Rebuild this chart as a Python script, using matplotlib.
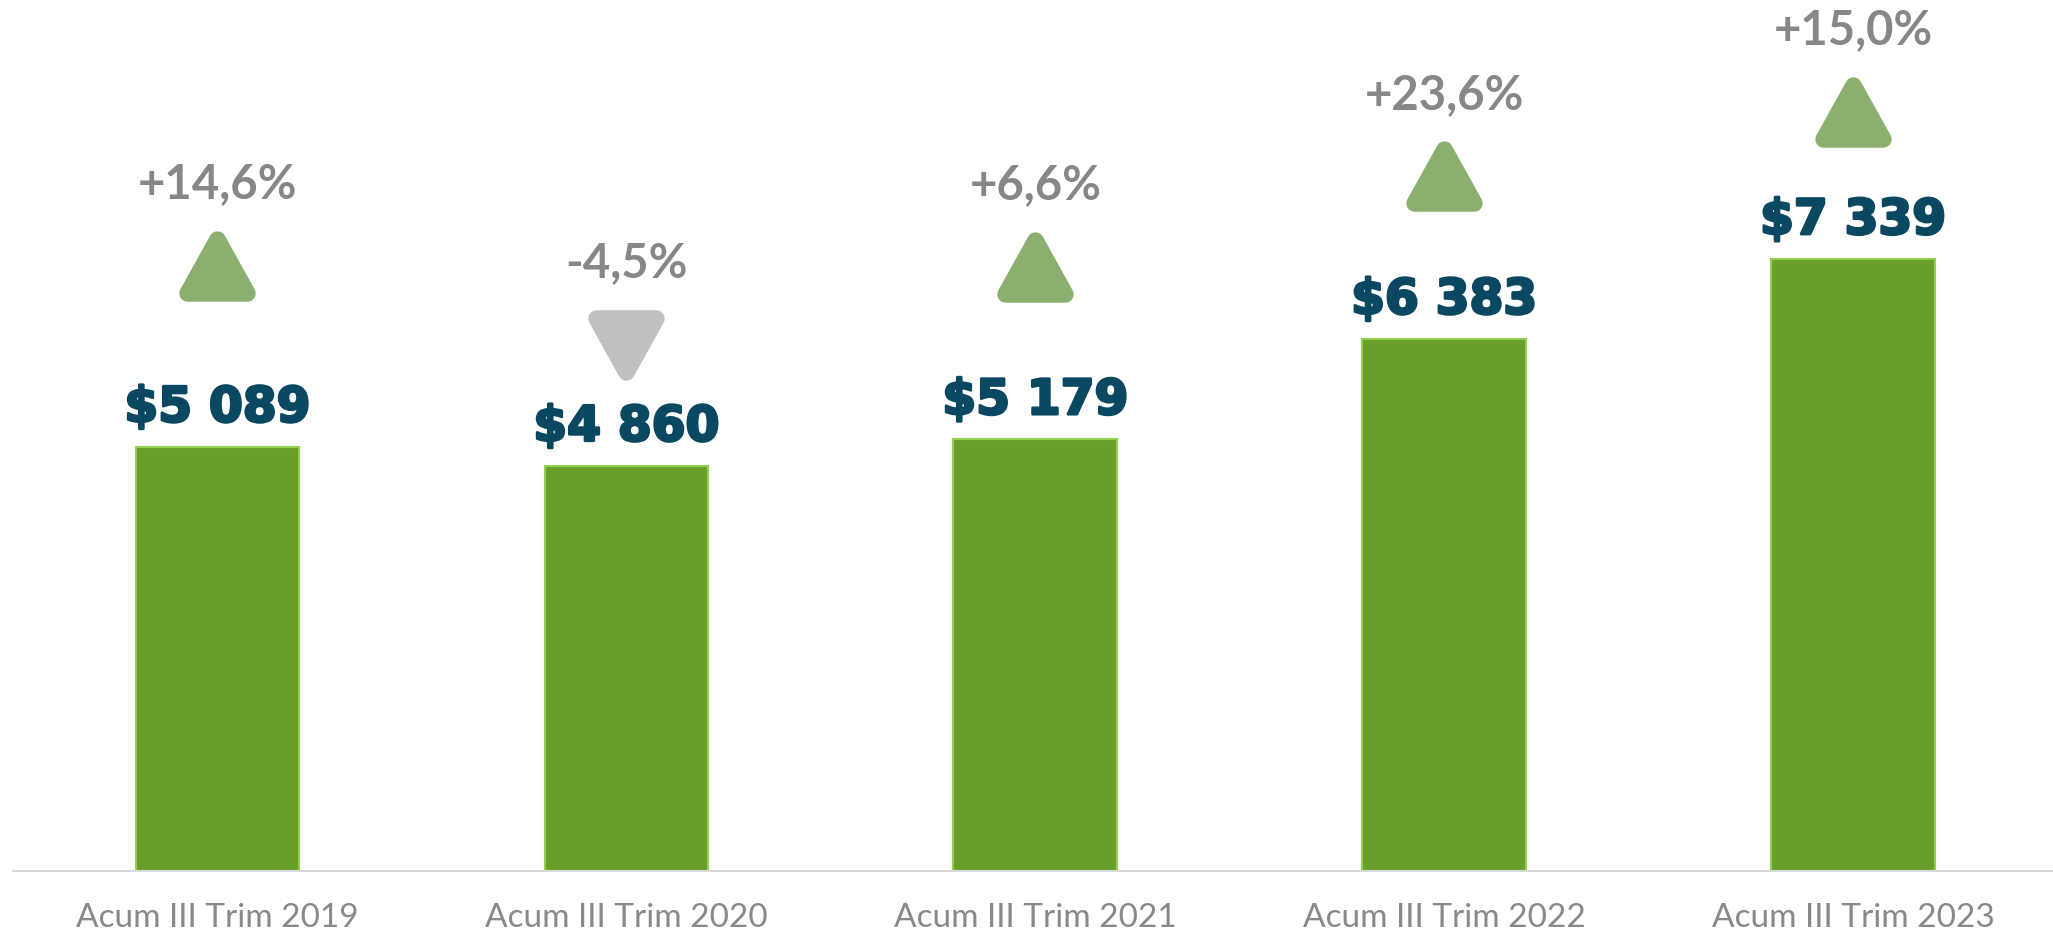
import matplotlib
matplotlib.use("Agg")
import matplotlib.pyplot as plt
import matplotlib.transforms as mtransforms
import matplotlib.patheffects as pe
from matplotlib.path import Path
from matplotlib.markers import MarkerStyle

# --- data ---
categories = ["Acum III Trim 2019", "Acum III Trim 2020", "Acum III Trim 2021",
              "Acum III Trim 2022", "Acum III Trim 2023"]
values = [5089, 4860, 5179, 6383, 7339]
pct_change = [14.6, -4.5, 6.6, 23.6, 15.0]

# layout: how far above the bar top the arrow sits (points)
arrow_gap = [130, 87, 124, 117, 106]

BAR = "#689F2B"
BAR_EDGE = "#92D050"
UP = "#8AAF6E"
DOWN = "#C0C0C0"
PCT = "#878787"
VAL = "#0A4760"

codes = [Path.MOVETO, Path.LINETO, Path.LINETO, Path.CLOSEPOLY]
up_tri = MarkerStyle(Path([(0, 0.9), (-1, -0.9), (1, -0.9), (0, 0.9)], codes),
                     joinstyle="round")
down_tri = MarkerStyle(Path([(0, -0.9), (-1, 0.9), (1, 0.9), (0, -0.9)], codes),
                       joinstyle="round")


def fmt_value(v):
    return "$" + f"{v:,}".replace(",", " ")


def fmt_pct(p):
    return f"{p:+.1f}%".replace(".", ",")


fig = plt.figure(figsize=(20.535, 9.375), dpi=100)
ax = fig.add_axes([0.0063, 0.0704, 0.9937, 0.9296])

x = list(range(len(categories)))
ax.bar(x, values, width=0.4, color=BAR, edgecolor=BAR_EDGE, linewidth=1.5, zorder=2)

ax.set_xlim(-0.5, 4.49)
ax.set_ylim(0, 10449)

for s in ["top", "right", "left"]:
    ax.spines[s].set_visible(False)
ax.spines["bottom"].set_color("#D9D9D9")
ax.spines["bottom"].set_linewidth(1.5)
ax.set_yticks([])
ax.set_xticks(x)
ax.set_xticklabels(categories, fontsize=24, color="#898989", family="Lato")
ax.tick_params(axis="x", length=0, pad=23)

# heavier look for the value labels
heavy = [pe.withStroke(linewidth=2, foreground=VAL)]

for i, v in enumerate(values):
    ax.annotate(fmt_value(v), (i, v), xytext=(0, 28), textcoords="offset points",
                ha="center", va="center", fontsize=35, fontweight="bold",
                family="DejaVu Sans", color=VAL, path_effects=heavy)

    off = mtransforms.ScaledTranslation(0, arrow_gap[i] / 72, fig.dpi_scale_trans)
    up = pct_change[i] >= 0
    c = UP if up else DOWN
    ax.plot([i], [v], linestyle="none", marker=up_tri if up else down_tri,
            markersize=43, color=c, markerfacecolor=c, markeredgecolor=c,
            markeredgewidth=12, transform=ax.transData + off, zorder=3,
            clip_on=False)

    ax.annotate(fmt_pct(pct_change[i]), (i, v), xytext=(0, arrow_gap[i] + 59),
                textcoords="offset points", ha="center", va="center",
                fontsize=34, fontweight="bold", family="Lato", color=PCT)

fig.savefig("out.png", dpi=100)
